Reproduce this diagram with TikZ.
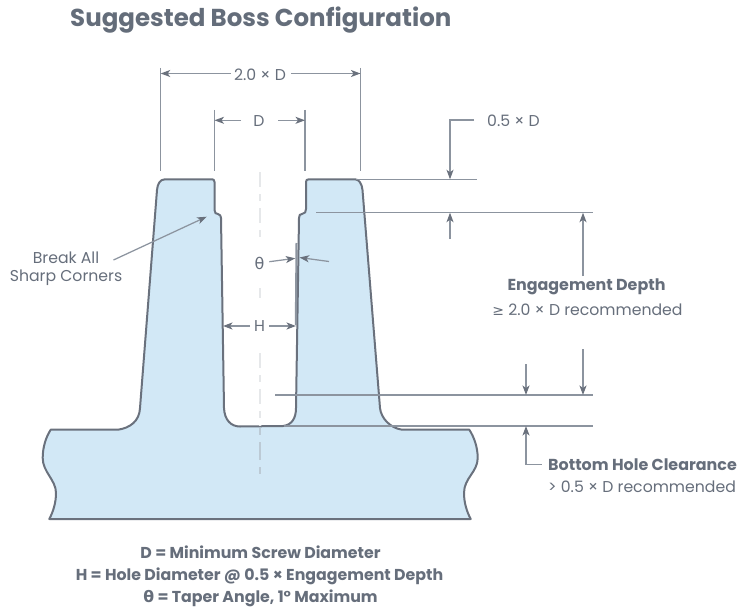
\documentclass[tikz,border=0pt]{standalone}
\usepackage{fontspec}
\setmainfont{Poppins}
\newfontfamily\symfont{DejaVu Sans}
\usetikzlibrary{arrows.meta}
\definecolor{txt}{HTML}{666E7B}
\definecolor{ttl}{HTML}{646D7A}
\definecolor{outl}{HTML}{6A717D}
\definecolor{dimc}{HTML}{8C949F}
\definecolor{bossfill}{HTML}{D2E8F6}
\definecolor{clight}{HTML}{E6E8EA}
\definecolor{cdark}{HTML}{BCCAD5}
\newcommand{\fs}[1]{\fontsize{#1}{#1}\selectfont}
\tikzset{
  dimline/.style={draw=dimc,line width=1.25pt},
  tip/.style={-{Stealth[length=9.5pt,width=7pt,inset=2.5pt,color=outl]}},
  centerl/.style={line width=1.4pt,dash pattern=on 15pt off 7pt on 7pt off 7pt},
  lab/.style={text=txt,inner sep=0pt,font=\fs{15.7}},
  labb/.style={text=txt,inner sep=0pt,font=\fs{15.9}\bfseries},
  foot/.style={text=txt,inner sep=0pt,font=\fs{15.8}\bfseries}
}
\begin{document}
\begin{tikzpicture}[x=1pt,y=-1pt]
\useasboundingbox (0,0) rectangle (749,607);
% body
\draw[fill=bossfill,draw=outl,line width=2pt,line join=round]
 (118,429.7) .. controls (130,428) and (139.5,421) .. (140,408)
 -- (157,190) .. controls (157.5,184) and (160,179.3) .. (165,179.3)
 -- (212,179.3) .. controls (213.5,179.3) and (214.5,180) .. (214.5,182)
 -- (214.5,210) .. controls (214.5,213) and (216,214) .. (218,214)
 .. controls (220,214.5) and (221,216) .. (221,218)
 -- (224,408) .. controls (224.5,420) and (231,426.5) .. (240,426.5)
 -- (283,426) .. controls (292,425) and (296,418) .. (296,408)
 -- (299,218) .. controls (299,215) and (300,214) .. (302,214)
 .. controls (305,213.5) and (306,212) .. (306,209)
 -- (306,182) .. controls (306,180) and (307,179.3) .. (309,179.3)
 -- (355,179.3) .. controls (359,179.3) and (362,184) .. (362.5,190)
 -- (380,408) .. controls (381,418) and (390,428) .. (402,429.7)
 -- (469.3,429.7) .. controls (474,437) and (477.7,447) .. (477.7,458)
 .. controls (477.7,472) and (464,478) .. (464,493)
 .. controls (464,503) and (467,512) .. (470.7,519)
 -- (49.3,519) .. controls (53,512) and (56,503) .. (56,493)
 .. controls (56,480) and (42.7,472) .. (42.7,458)
 .. controls (42.7,447) and (46,437) .. (50.7,429.7) -- cycle;
% center line
\coordinate (ca) at (260,172); \coordinate (cb) at (260,238);
\coordinate (cc) at (260,288); \coordinate (cd) at (260,298);
\coordinate (ce) at (260,353); \coordinate (cf) at (260,426);
\coordinate (cg) at (260,428); \coordinate (ch) at (260,480);
\draw[centerl,draw=clight] (ca) -- (cb);
\draw[line width=1.4pt,draw=clight] (cc) -- (cd);
\draw[centerl,draw=clight] (ce) -- (cf);
\draw[line width=1.4pt,dash pattern=on 7pt off 7pt on 18pt off 7pt,draw=cdark] (cg) -- (ch);
% title
\node[anchor=west,text=ttl,inner sep=0pt,font=\fs{24.5}\bfseries] (title) at (70,20) {Suggested Boss Configuration};
% extension lines
\coordinate (e1a) at (160.7,68); \coordinate (e1b) at (160.7,171);
\coordinate (e2a) at (214.5,110); \coordinate (e2b) at (214.5,171);
\coordinate (e3a) at (305,110); \coordinate (e3b) at (305,171);
\coordinate (e4a) at (360.5,68); \coordinate (e4b) at (360.5,171);
\draw[dimline] (e1a) -- (e1b);
\draw[dimline] (e2a) -- (e2b);
\draw[dimline] (e3a) -- (e3b);
\draw[dimline] (e4a) -- (e4b);
% 2.0 x D
\node[lab] (ltwo) at (260,75) {2.0 × D};
\coordinate (t1) at (231,73.5); \coordinate (t2) at (291,73.5);
\coordinate (t1e) at (160.7,73.5); \coordinate (t2e) at (360.5,73.5);
\draw[dimline,tip] (t1) -- (t1e);
\draw[dimline,tip] (t2) -- (t2e);
% D
\node[lab] (ld) at (259,121) {D};
\coordinate (d1) at (241,120.3); \coordinate (d2) at (278,120.3);
\coordinate (d1e) at (214.5,120.3); \coordinate (d2e) at (305,120.3);
\draw[dimline,tip] (d1) -- (d1e);
\draw[dimline,tip] (d2) -- (d2e);
% horizontal reference lines
\coordinate (h1a) at (356,179.3); \coordinate (h1b) at (477,179.3);
\coordinate (h2a) at (316,212.7); \coordinate (h2b) at (593,212.7);
\coordinate (h3a) at (275,395); \coordinate (h3b) at (593,395);
\coordinate (h4a) at (284,426); \coordinate (h4b) at (593,426);
\draw[dimline] (h1a) -- (h1b);
\draw[dimline] (h2a) -- (h2b);
\draw[dimline] (h3a) -- (h3b);
\draw[dimline] (h4a) -- (h4b);
% 0.5 x D
\node[lab,anchor=west] (lhalf) at (487,121) {0.5 × D};
\coordinate (q1) at (474,120); \coordinate (q2) at (450,120); \coordinate (q3) at (450,179.3);
\draw[dimline,tip] (q1) -- (q2) -- (q3);
\coordinate (q4) at (450,239); \coordinate (q5) at (450,212.7);
\draw[dimline,tip] (q4) -- (q5);
% engagement
\coordinate (g1) at (583,276); \coordinate (g2) at (583,212.7);
\draw[dimline,tip] (g1) -- (g2);
\coordinate (g3) at (583,349); \coordinate (g4) at (583,395);
\draw[dimline,tip] (g3) -- (g4);
\coordinate (g5) at (526,364); \coordinate (g6) at (526,395);
\draw[dimline,tip] (g5) -- (g6);
\node[labb] (leng) at (586.5,287) {Engagement Depth};
\node[lab] (lengb) at (587.5,309.5) {{\symfont\fontsize{14}{14}\selectfont ≥} 2.0 × D recommended};
% clearance
\coordinate (b1) at (541.7,464.5); \coordinate (b2) at (526,464.5); \coordinate (b3) at (526,426);
\draw[dimline,tip] (b1) -- (b2) -- (b3);
\node[labb,anchor=west] (lbot) at (548,465) {Bottom Hole Clearance};
\node[lab,anchor=west] (lbotb) at (548,486.5) {> 0.5 × D recommended};
% taper
\coordinate (ta) at (296.5,243); \coordinate (tb) at (295.8,325);
\draw[draw=dimc,line width=2pt] (ta) -- (tb);
\node[lab,font=\fs{16}\symfont] (ltheta) at (259.5,263) {θ};
\coordinate (th1) at (269.3,261.7); \coordinate (th2) at (295.3,258.3);
\coordinate (th3) at (329,261.5); \coordinate (th4) at (299.5,257.5);
\draw[dimline,tip] (th1) -- (th2);
\draw[dimline,tip] (th3) -- (th4);
% H
\node[lab] (lh) at (259.5,326.5) {H};
\coordinate (h1) at (250,326); \coordinate (h2) at (269,326);
\coordinate (he1) at (223,326); \coordinate (he2) at (296,326);
\draw[dimline,tip] (h1) -- (he1);
\draw[dimline,tip] (h2) -- (he2);
% break
\node[lab] (lbreak) at (66,257.5) {Break All};
\node[lab] (lsharp) at (66,277.5) {Sharp Corners};
\coordinate (k1) at (113.5,260); \coordinate (k2) at (206.7,216.7);
\draw[dimline,tip] (k1) -- (k2);
% footer
\node[foot] (f1) at (260.5,552.5) {D = Minimum Screw Diameter};
\node[foot] (f2) at (259.5,576) {H = Hole Diameter @ 0.5 × Engagement Depth};
\node[foot] (f3) at (260.5,598) {{\symfont θ} = Taper Angle, 1° Maximum};
\end{tikzpicture}
\end{document}
